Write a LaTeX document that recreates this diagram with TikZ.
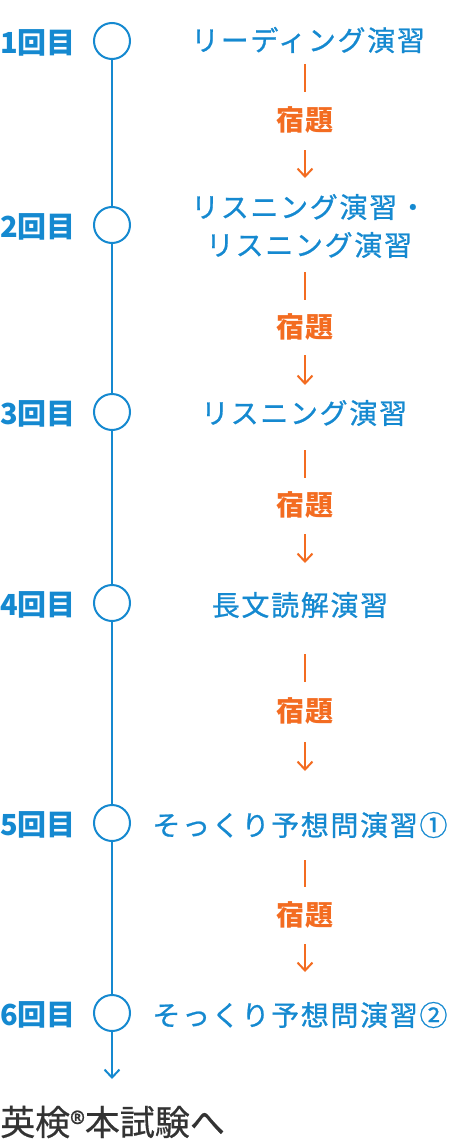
\documentclass[tikz,border=0pt]{standalone}
\usepackage{fontspec}
\setmainfont{Noto Sans CJK JP}
\usetikzlibrary{arrows.meta}
\definecolor{Blue}{HTML}{1589D0}
\definecolor{Orange}{HTML}{F36C21}
\definecolor{Ink}{HTML}{333333}

\begin{document}
\begin{tikzpicture}[x=1pt,y=-1pt,every node/.style={inner sep=0pt},stop/.style={circle,draw=Blue,fill=white,line width=2pt,minimum size=36pt},rnd/.style={font=\fontsize{29}{29}\selectfont\bfseries,text=Blue,anchor=west},task/.style={font=\fontsize{28}{38}\selectfont\addfontfeature{LetterSpace=6,FakeBold=0.8},text=Blue,align=center},hw/.style={font=\fontsize{28}{28}\selectfont\bfseries\addfontfeature{LetterSpace=6},text=Orange},tline/.style={draw=Blue,line width=2pt},hwline/.style={draw=Orange,line width=2pt},barb/.style={-{Straight Barb[length=8pt,width=15pt]}}]
\useasboundingbox (0,0) rectangle (460,1140);
\foreach \i/\y in {1/41,2/225,3/412,4/603,5/823,6/1013}{
\node[stop] (c\i) at (112,\y) {};
\node[rnd] (lbl\i) at (0,\y+2) {\i{}回目};
}
\foreach \i/\j in {1/2,2/3,3/4,4/5,5/6}{\draw[tline] (c\i) -- (c\j);}
\coordinate (tip) at (112,1079);
\draw[tline,barb] (c6) -- (tip);
\node[task] (s1) at (308,40) {リーディング演習};
\node[task] (s2) at (309,226) {リスニング演習・\\リスニング演習};
\node[task] (s3) at (304,413) {リスニング演習};
\node[task] (s4) at (300,605) {長文読解演習};
\node[task] (s5) at (300,825) {そっくり予想問演習①};
\node[task] (s6) at (300,1015) {そっくり予想問演習②};
\node[hw] (hw1) at (305,120) {宿題};
\node[hw] (hw2) at (305,327) {宿題};
\node[hw] (hw3) at (305,505) {宿題};
\node[hw] (hw4) at (305,711) {宿題};
\node[hw] (hw5) at (305,915) {宿題};
% homework dash and arrow between the steps
\foreach \i/\j/\a/\b/\c/\d in {1/2/24/28/30/48,2/3/46/27/28/28,3/4/37/27/29/42,4/5/49/29/31/54,5/6/35/28/29/43}{
\draw[hwline,shorten <=\a pt,shorten >=\b pt] (hw\i.center |- s\i) -- (hw\i.center);
\draw[hwline,barb,shorten <=\c pt,shorten >=\d pt] (hw\i.center) -- (hw\i.center |- s\j);
}
\node[font=\fontsize{35}{35}\selectfont\addfontfeature{FakeBold=0.5},text=Ink,anchor=west] (exam) at (0,1122) {英検{\fontsize{31}{31}\selectfont\raisebox{0pt}{®}}本試験へ};
\end{tikzpicture}
\end{document}
